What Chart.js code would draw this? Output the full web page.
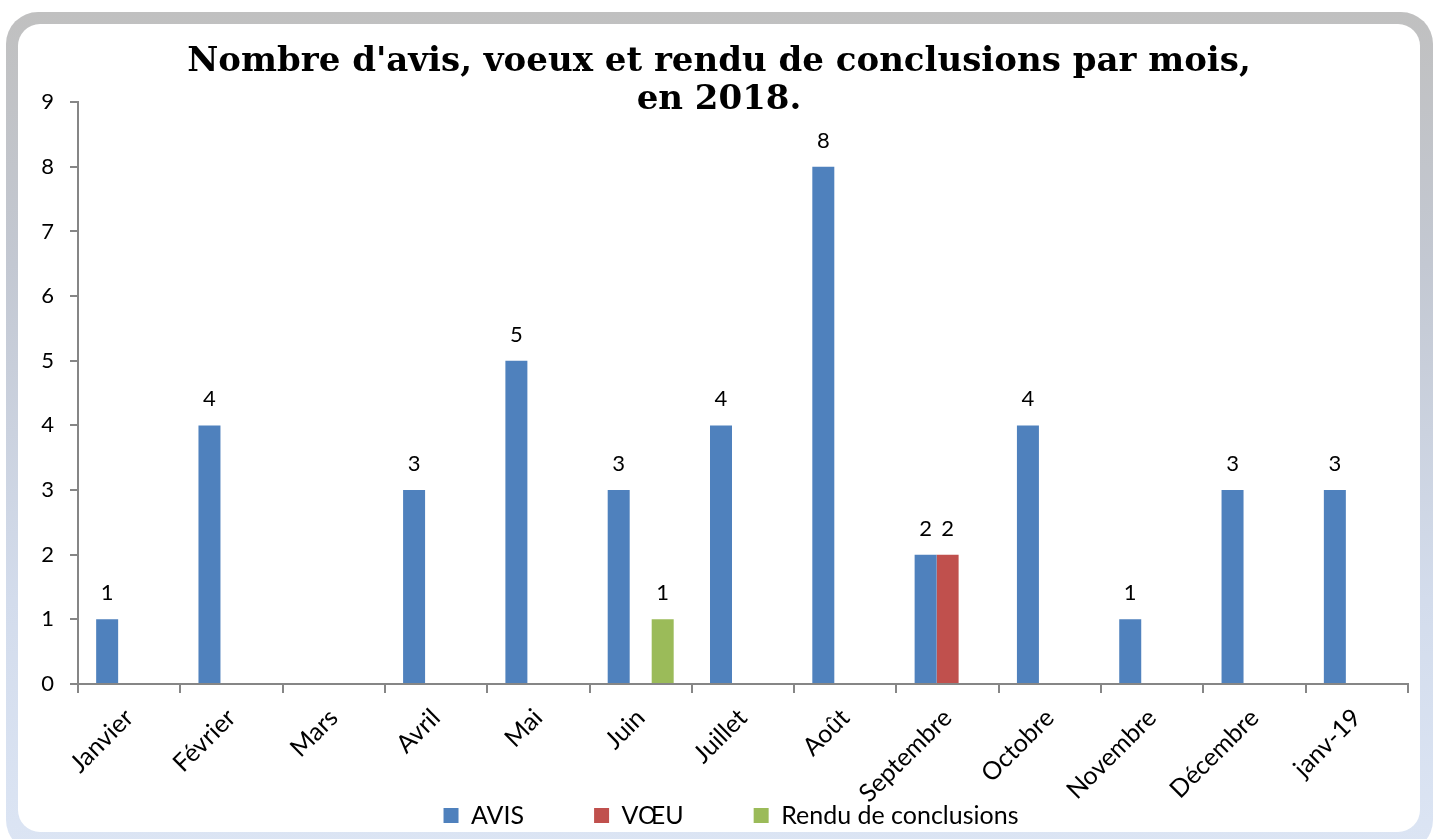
<!DOCTYPE html>
<html>
<head>
<meta charset="utf-8">
<script src="https://cdn.jsdelivr.net/npm/chart.js@4"></script>
<style>
  html, body { margin: 0; padding: 0; background: #fff; }
  body { width: 1435px; height: 839px; position: relative; overflow: hidden; }
  .frame {
    position: absolute; left: 6px; top: 12px; width: 1427px; height: 840px;
    border-radius: 32px;
    background: linear-gradient(to bottom, #c0c0c0 0%, #c3c8d2 30%, #d3dcec 70%, #dce5f4 100%);
  }
  .card {
    position: absolute; left: 18px; top: 24px; width: 1402px; height: 808px;
    border-radius: 22px; background: #fff;
  }
  #chart { position: absolute; left: 0; top: 0; }
</style>
</head>
<body>
<div class="frame"></div>
<div class="card"></div>
<canvas id="chart" width="1435" height="839"></canvas>
<script>
document.addEventListener('DOMContentLoaded', function () {
    const months = ['Janvier', 'Février', 'Mars', 'Avril', 'Mai', 'Juin', 'Juillet',
                    'Août', 'Septembre', 'Octobre', 'Novembre', 'Décembre', 'janv-19'];
    const avis = [1, 4, null, 3, 5, 3, 4, 8, 2, 4, 1, 3, 3];
    const voeu = [null, null, null, null, null, null, null, null, 2, null, null, null, null];
    const rendu = [null, null, null, null, null, 1, null, null, null, null, null, null, null];

    const axisColor = '#868686';
    const font = 'Lato';

    // valeurs au-dessus des barres
    const valueLabels = {
        id: 'valueLabels',
        afterDatasetsDraw(chart) {
            const c = chart.ctx;
            c.save();
            c.font = '22px ' + font;
            c.fillStyle = '#000';
            c.textAlign = 'center';
            c.textBaseline = 'bottom';
            chart.data.datasets.forEach((ds, i) => {
                chart.getDatasetMeta(i).data.forEach((bar, j) => {
                    if (ds.data[j] == null) return;
                    c.fillText(ds.data[j], bar.x, bar.y - 15);
                });
            });
            c.restore();
        }
    };

    // légende : hauteur fixe (le padding sert à espacer les items) + léger décalage à droite
    const legendBox = {
        id: 'legendBox',
        beforeUpdate(chart) {
            const lg = chart.legend;
            if (lg && !lg._patched) {
                const fit = lg.fit;
                lg.fit = function () { fit.call(this); this.height = 106; };
                lg._patched = true;
            }
        },
        afterLayout(chart) {
            const lg = chart.legend;
            if (lg) { lg.left += 12; lg.right += 12; }
        }
    };

    const ctx = document.getElementById('chart').getContext('2d');
    new Chart(ctx, {
        type: 'bar',
        data: {
            labels: months,
            datasets: [
                { label: 'AVIS', data: avis, backgroundColor: '#4f81bd' },
                { label: 'VŒU', data: voeu, backgroundColor: '#c0504d' },
                { label: 'Rendu de conclusions', data: rendu, backgroundColor: '#9bbb59' }
            ]
        },
        options: {
            responsive: false,
            animation: false,
            categoryPercentage: 0.645,
            barPercentage: 1,
            layout: { padding: { left: 30, right: 27, top: 0, bottom: 0 } },
            scales: {
                x: {
                    grid: { drawOnChartArea: false, color: axisColor, lineWidth: 2, tickLength: 9 },
                    border: { color: axisColor, width: 2 },
                    ticks: { color: '#000', font: { family: font, size: 25 }, minRotation: 45, maxRotation: 45, padding: 10 },
                    afterFit: s => {
                        s.height = 49;
                        s._computeLabelArea = () => undefined; // pas de découpe des libellés
                    }
                },
                y: {
                    min: 0, max: 9,
                    grid: { drawOnChartArea: false, color: axisColor, lineWidth: 2, tickLength: 8 },
                    border: { color: axisColor, width: 2 },
                    ticks: { stepSize: 1, color: '#000', font: { family: font, size: 22 }, padding: 16 },
                    afterFit: s => { s.width = 48; }
                }
            },
            plugins: {
                title: {
                    display: true,
                    text: ["Nombre d'avis, voeux et rendu de conclusions par mois,", 'en 2018.'],
                    color: '#000',
                    font: { family: 'DejaVu Serif', weight: 'bold', size: 34, lineHeight: 1.12 },
                    padding: { top: 43, bottom: -17 }
                },
                legend: {
                    position: 'bottom',
                    labels: { color: '#000', font: { family: font, size: 25 }, boxWidth: 15, boxHeight: 15, padding: 70 }
                },
                tooltip: { enabled: false }
            }
        },
        plugins: [valueLabels, legendBox]
    });
});
</script>
</body>
</html>
